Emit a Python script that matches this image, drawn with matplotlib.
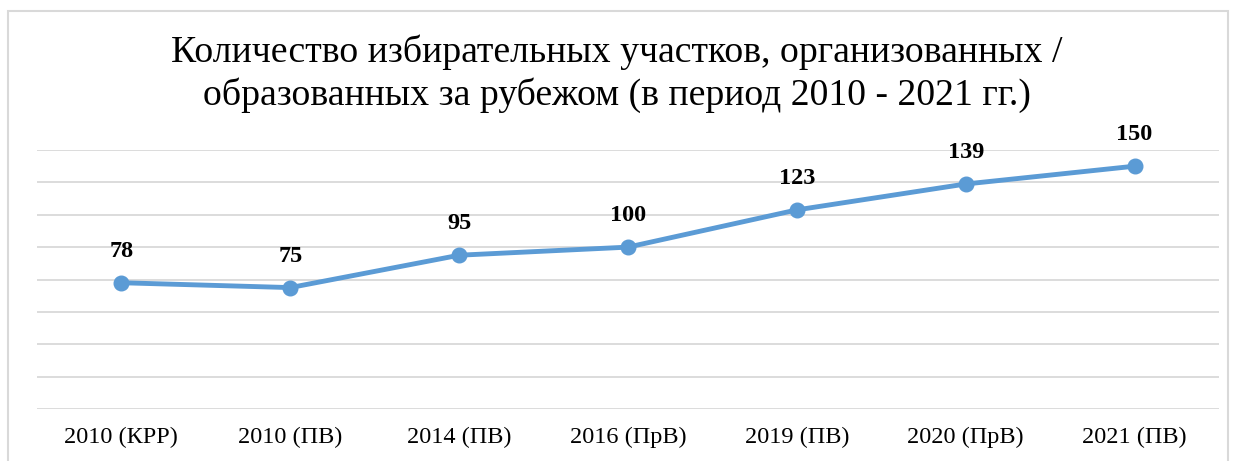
import matplotlib.pyplot as plt
from matplotlib.patches import Rectangle

categories = ["2010 (КРР)", "2010 (ПВ)", "2014 (ПВ)", "2016 (ПрВ)",
              "2019 (ПВ)", "2020 (ПрВ)", "2021 (ПВ)"]
values = [78, 75, 95, 100, 123, 139, 150]

plt.rcParams['font.family'] = ['Liberation Serif', 'DejaVu Serif']

fig = plt.figure(figsize=(12.34, 4.61), dpi=100)
ax = fig.add_axes([37 / 1234, 1 - 409 / 461, (1219 - 37) / 1234, (409 - 150) / 461])

# chart border
fig.patches.append(Rectangle((8 / 1234, -0.05), (1228 - 8) / 1234, 1 - 11 / 461 + 0.05,
                             transform=fig.transFigure, fill=False,
                             edgecolor='#D9D9D9', linewidth=1.5))

x = range(len(categories))
ax.plot(x, values, color='#5B9BD5', linewidth=3.5, marker='o', markersize=10.5,
        solid_capstyle='round', zorder=3)
for i, v in zip(x, values):
    ax.annotate(str(v), (i, v), xytext=(0, 22.5), textcoords='offset points',
                ha='center', va='center', fontsize=17.5, fontweight='bold')

ax.set_xlim(-0.5, len(categories) - 0.5)
ax.set_ylim(0, 160)
ax.set_yticks(range(0, 161, 20))
ax.set_yticklabels([])
ax.grid(axis='y', color='#D9D9D9', linewidth=1.3)
ax.set_axisbelow(True)
ax.set_xticks(list(x))
ax.set_xticklabels(categories, fontsize=17.5)
ax.tick_params(axis='both', length=0, pad=13)
for s in ax.spines.values():
    s.set_visible(False)

fig.text(0.5, 1 - 74 / 461, "Количество избирательных участков, организованных /\n"
         "образованных за рубежом (в период 2010 - 2021 гг.)",
         ha='center', va='center', fontsize=27.2, linespacing=1.25)

fig.savefig('out.png', dpi=100)
